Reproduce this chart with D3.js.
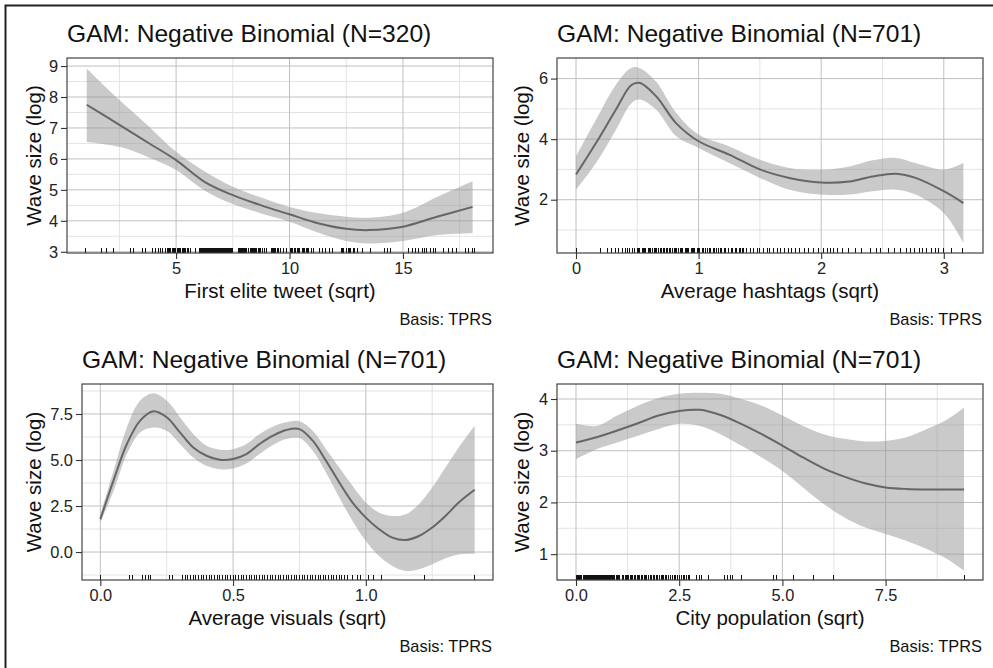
<!DOCTYPE html>
<html>
<head>
<meta charset="utf-8">
<script src="https://cdn.jsdelivr.net/npm/d3@7"></script>
<style>
  body { margin: 0; background: #fff; }
  svg { display: block; font-family: "Liberation Sans", Arial, sans-serif; }
</style>
</head>
<body>
<svg id="chart" width="993" height="668"></svg>
<script>
// Panel 1: first elite tweet
const p1X     = [1.06, 2.5, 3.75, 5, 6.25, 7.5, 8.75, 10, 11.25, 12.5, 13.5, 15, 16.5, 18.07];
const p1Fit   = [7.75, 7.1, 6.53, 5.96, 5.26, 4.83, 4.5, 4.21, 3.92, 3.74, 3.70, 3.81, 4.13, 4.45];
const p1Upper = [8.92, 7.9, 7.08, 6.23, 5.6, 5.1, 4.75, 4.45, 4.25, 4.13, 4.1, 4.26, 4.77, 5.28];
const p1Lower = [6.55, 6.39, 6.06, 5.64, 4.98, 4.54, 4.24, 3.97, 3.62, 3.35, 3.27, 3.35, 3.54, 3.6];
const p1Rug = [1.0, 1.72, 1.94, 2.24, 2.98, 3.13, 3.5, 3.65, 3.97, 4.09, 4.21, 4.32, 4.42, 4.54, 4.6,
  4.66, 4.72, 4.76, 4.82, 4.87, 4.93, 4.99, 5.05, 5.1, 5.16, 5.21, 5.26, 5.31, 5.37, 5.43, 5.49, 5.55,
  5.65, 5.85, 6.03, 6.08, 6.12, 6.16, 6.2, 6.24, 6.27, 6.31, 6.35, 6.39, 6.42, 6.46, 6.5, 6.54, 6.57,
  6.61, 6.65, 6.69, 6.72, 6.76, 6.8, 6.84, 6.87, 6.91, 6.95, 6.99, 7.02, 7.06, 7.1, 7.14, 7.17, 7.21,
  7.25, 7.29, 7.32, 7.36, 7.4, 7.44, 7.48, 7.75, 7.79, 7.82, 7.86, 7.9, 7.94, 7.97, 8.01, 8.05, 8.09,
  8.12, 8.2, 8.3, 8.34, 8.38, 8.42, 8.45, 8.5, 8.55, 8.63, 8.68, 8.72, 8.8, 8.9, 9.0, 9.22, 9.26, 9.3,
  9.35, 9.4, 9.45, 9.5, 9.6, 9.72, 9.85, 10.05, 10.1, 10.15, 10.2, 10.25, 10.35, 10.4, 10.45, 10.55,
  10.6, 10.65, 10.75, 10.8, 10.85, 10.95, 11.05, 11.3, 11.45, 11.6, 11.75, 11.9, 12.3, 12.35, 12.4,
  12.5, 12.6, 12.65, 12.7, 12.8, 12.88, 13.0, 13.2, 13.55, 14.2, 14.3, 14.45, 15.25, 15.4, 15.55,
  15.68, 15.85, 15.95, 16.05, 16.2, 16.35, 16.45, 16.8, 17.0, 17.2, 17.35, 17.75, 17.9, 18.05, 18.15];

// Panel 2: average hashtags
const p2X     = [0, 0.163, 0.326, 0.45, 0.517, 0.653, 0.816, 1.0, 1.25, 1.5, 1.74, 2.0, 2.23, 2.42, 2.61, 2.77, 3.0, 3.16];
const p2Fit   = [2.83, 3.87, 4.98, 5.78, 5.86, 5.42, 4.53, 3.93, 3.49, 3.0, 2.72, 2.57, 2.6, 2.77, 2.86, 2.72, 2.28, 1.89];
const p2Upper = [3.43, 4.64, 5.8, 6.35, 6.35, 5.9, 4.87, 4.15, 3.76, 3.32, 3.05, 2.99, 3.1, 3.3, 3.38, 3.21, 2.99, 3.21];
const p2Lower = [2.33, 3.21, 4.31, 5.18, 5.31, 4.98, 4.1, 3.71, 3.21, 2.72, 2.33, 2.17, 2.17, 2.28, 2.33, 2.17, 1.56, 0.57];
const p2Rug = [0, 0.2, 0.26, 0.29, 0.32, 0.35, 0.38, 0.4, 0.42, 0.44, 0.46, 0.48, 0.5, 0.51, 0.52, 0.54,
  0.55, 0.56, 0.57, 0.59, 0.6, 0.61, 0.62, 0.64, 0.65, 0.66, 0.67, 0.69, 0.7, 0.71, 0.72, 0.74, 0.75,
  0.76, 0.77, 0.79, 0.8, 0.81, 0.82, 0.84, 0.85, 0.86, 0.87, 0.89, 0.9, 0.91, 0.92, 0.94, 0.95, 0.96,
  0.97, 0.99, 1.0, 1.01, 1.03, 1.04, 1.06, 1.07, 1.09, 1.1, 1.12, 1.13, 1.15, 1.16, 1.18, 1.19, 1.21,
  1.22, 1.24, 1.27, 1.28, 1.3, 1.31, 1.33, 1.34, 1.36, 1.37, 1.39, 1.42, 1.45, 1.48, 1.5, 1.53, 1.56,
  1.58, 1.61, 1.64, 1.67, 1.7, 1.73, 1.76, 1.79, 1.82, 1.86, 1.9, 1.94, 1.98, 2.02, 2.05, 2.08, 2.1,
  2.13, 2.17, 2.22, 2.28, 2.33, 2.4, 2.45, 2.48, 2.55, 2.6, 2.65, 2.7, 2.73, 2.76, 2.8, 2.83, 2.86,
  2.9, 2.93, 2.96, 3.0, 3.06, 3.15];

// Panel 3: average visuals
const p3X     = [0, 0.05, 0.1, 0.15, 0.2, 0.25, 0.3, 0.35, 0.4, 0.45, 0.5, 0.55, 0.6, 0.65, 0.7, 0.75,
  0.8, 0.85, 0.9, 0.95, 1.0, 1.05, 1.1, 1.15, 1.2, 1.25, 1.3, 1.35, 1.41];
const p3Fit   = [1.78, 3.9, 5.87, 7.14, 7.65, 7.32, 6.5, 5.68, 5.23, 5.01, 5.05, 5.32, 5.87, 6.32, 6.63,
  6.68, 6.05, 4.96, 3.78, 2.69, 1.87, 1.24, 0.78, 0.65, 0.87, 1.33, 1.96, 2.69, 3.38];
const p3Upper = [2.05, 4.41, 6.77, 8.23, 8.63, 8.23, 7.32, 6.41, 5.77, 5.56, 5.59, 5.87, 6.41, 6.81, 7.05,
  7.1, 6.59, 5.59, 4.59, 3.6, 2.69, 2.14, 1.96, 2.05, 2.6, 3.5, 4.59, 5.68, 6.86];
const p3Lower = [1.6, 3.32, 5.32, 6.5, 6.77, 6.59, 5.87, 5.14, 4.69, 4.5, 4.54, 4.81, 5.32, 5.81, 6.14,
  6.19, 5.5, 4.32, 2.96, 1.69, 0.6, -0.22, -0.76, -1.03, -0.94, -0.67, -0.34, -0.13, -0.09];
const p3Rug = [0, 0.11, 0.12, 0.16, 0.17, 0.18, 0.19, 0.26, 0.27, 0.31, 0.32, 0.33, 0.34, 0.35, 0.36,
  0.37, 0.38, 0.39, 0.4, 0.41, 0.42, 0.43, 0.44, 0.45, 0.46, 0.47, 0.48, 0.49, 0.5, 0.51, 0.52, 0.53,
  0.54, 0.55, 0.56, 0.57, 0.58, 0.59, 0.6, 0.61, 0.62, 0.63, 0.64, 0.65, 0.66, 0.67, 0.68, 0.69, 0.7,
  0.71, 0.72, 0.73, 0.74, 0.75, 0.76, 0.77, 0.78, 0.79, 0.8, 0.81, 0.82, 0.83, 0.84, 0.85, 0.86, 0.87,
  0.88, 0.89, 0.9, 0.91, 0.92, 0.93, 0.95, 0.97, 0.98, 1.01, 1.03, 1.06, 1.22, 1.41];

// Panel 4: city population
const p4X     = [0, 0.5, 1, 1.5, 2, 2.5, 3, 3.5, 4, 4.5, 5, 5.5, 6, 6.5, 7, 7.5, 8, 8.5, 9, 9.4];
const p4Fit   = [3.16, 3.26, 3.39, 3.53, 3.68, 3.77, 3.79, 3.69, 3.52, 3.32, 3.1, 2.87, 2.66, 2.5, 2.37, 2.29, 2.26, 2.25, 2.25, 2.25];
const p4Upper = [3.52, 3.48, 3.68, 3.87, 4.02, 4.1, 4.12, 4.1, 4.0, 3.87, 3.68, 3.48, 3.32, 3.23, 3.18, 3.19, 3.26, 3.42, 3.61, 3.83];
const p4Lower = [2.84, 3.03, 3.16, 3.29, 3.42, 3.52, 3.48, 3.32, 3.1, 2.87, 2.61, 2.29, 1.97, 1.71, 1.52, 1.39, 1.26, 1.1, 0.9, 0.68];
const p4Rug = [0.02, 0.045, 0.07, 0.095, 0.12, 0.145, 0.17, 0.195, 0.22, 0.245, 0.27, 0.295, 0.32, 0.345,
  0.37, 0.395, 0.42, 0.445, 0.47, 0.495, 0.52, 0.545, 0.57, 0.595, 0.62, 0.645, 0.67, 0.695, 0.72, 0.745,
  0.77, 0.795, 0.82, 0.845, 0.87, 0.895, 0.92, 0.945, 0.97, 0.995, 1.02, 1.045, 1.13, 1.16, 1.19, 1.22,
  1.25, 1.28, 1.31, 1.34, 1.38, 1.41, 1.44, 1.48, 1.51, 1.55, 1.58, 1.62, 1.65, 1.69, 1.72, 1.76, 1.8,
  1.84, 1.87, 1.9, 1.95, 1.98, 2.02, 2.06, 2.1, 2.13, 2.17, 2.2, 2.25, 2.3, 2.35, 2.38, 2.42, 2.47, 2.5,
  2.55, 2.6, 2.63, 2.67, 2.72, 2.75, 2.92, 2.98, 3.05, 3.2, 3.6, 3.68, 3.75, 3.8, 4.0, 4.78, 4.86, 5.26,
  5.75, 6.23, 9.41];

// titles and tick labels
const titles = ['GAM: Negative Binomial (N=320)', 'GAM: Negative Binomial (N=701)',
                'GAM: Negative Binomial (N=701)', 'GAM: Negative Binomial (N=701)'];
const xTitles = ['First elite tweet (sqrt)', 'Average hashtags (sqrt)', 'Average visuals (sqrt)', 'City population (sqrt)'];
const yTitle = 'Wave size (log)';
const caption = 'Basis: TPRS';

const p1XTicks = [5, 10, 15],          p1YTicks = [3, 4, 5, 6, 7, 8, 9];
const p2XTicks = [0, 1, 2, 3],         p2YTicks = [2, 4, 6];
const p3XTicks = [0, 0.5, 1],          p3YTicks = [0, 2.5, 5, 7.5];
const p4XTicks = [0, 2.5, 5, 7.5],     p4YTicks = [1, 2, 3, 4];

const panels = [
  { x: p1X, fit: p1Fit, hi: p1Upper, lo: p1Lower, rug: p1Rug,
    xd: [0.19, 18.97], yd: [2.96, 9.26], xt: p1XTicks, yt: p1YTicks, xf: d3.format('d'), yf: d3.format('d'),
    box: { left: 67, right: 493, top: 58, bottom: 253 } },
  { x: p2X, fit: p2Fit, hi: p2Upper, lo: p2Lower, rug: p2Rug,
    xd: [-0.155, 3.32], yd: [0.24, 6.68], xt: p2XTicks, yt: p2YTicks, xf: d3.format('d'), yf: d3.format('d'),
    box: { left: 557, right: 983, top: 58, bottom: 253 } },
  { x: p3X, fit: p3Fit, hi: p3Upper, lo: p3Lower, rug: p3Rug,
    xd: [-0.069, 1.479], yd: [-1.52, 9.13], xt: p3XTicks, yt: p3YTicks, xf: d3.format('.1f'), yf: d3.format('.1f'),
    box: { left: 82, right: 493, top: 384, bottom: 580 } },
  { x: p4X, fit: p4Fit, hi: p4Upper, lo: p4Lower, rug: p4Rug,
    xd: [-0.46, 9.86], yd: [0.5, 4.29], xt: p4XTicks, yt: p4YTicks, xf: d3.format('.1f'), yf: d3.format('d'),
    box: { left: 557, right: 983, top: 384, bottom: 580 } }
];

const svg = d3.select('#chart');

// outer frame (only left and top edges are visible)
svg.append('rect')
  .attr('x', 5.5).attr('y', 5.5)
  .attr('width', 1100).attr('height', 800)
  .attr('fill', 'none')
  .attr('stroke', '#222')
  .attr('stroke-width', 2);

// minor breaks sit halfway between major breaks
function minorTicks(t, domain) {
  const step = t[1] - t[0];
  const out = [];
  for (let v = t[0] - step / 2; v <= domain[1]; v += step) {
    if (v >= domain[0]) out.push(v);
  }
  return out;
}

panels.forEach((p, i) => {
  const b = p.box;
  const x = d3.scaleLinear().domain(p.xd).range([b.left, b.right]);
  const y = d3.scaleLinear().domain(p.yd).range([b.bottom, b.top]);
  const g = svg.append('g');

  // grid
  const grid = g.append('g');
  minorTicks(p.xt, p.xd).forEach(v => {
    grid.append('line').attr('x1', x(v)).attr('x2', x(v)).attr('y1', b.top).attr('y2', b.bottom)
      .attr('stroke', '#e3e3e3').attr('stroke-width', 1);
  });
  minorTicks(p.yt, p.yd).forEach(v => {
    grid.append('line').attr('x1', b.left).attr('x2', b.right).attr('y1', y(v)).attr('y2', y(v))
      .attr('stroke', '#e3e3e3').attr('stroke-width', 1);
  });
  p.xt.forEach(v => {
    grid.append('line').attr('x1', x(v)).attr('x2', x(v)).attr('y1', b.top).attr('y2', b.bottom)
      .attr('stroke', '#c0c0c0').attr('stroke-width', 1);
  });
  p.yt.forEach(v => {
    grid.append('line').attr('x1', b.left).attr('x2', b.right).attr('y1', y(v)).attr('y2', y(v))
      .attr('stroke', '#c0c0c0').attr('stroke-width', 1);
  });

  const idx = d3.range(p.x.length);

  // confidence band
  const area = d3.area()
    .x(d => x(p.x[d]))
    .y0(d => y(p.lo[d]))
    .y1(d => y(p.hi[d]))
    .curve(d3.curveCatmullRom.alpha(0.5));
  g.append('path')
    .datum(idx)
    .attr('d', area)
    .attr('fill', '#959595')
    .attr('fill-opacity', 0.5);

  // fitted smooth
  const line = d3.line()
    .x(d => x(p.x[d]))
    .y(d => y(p.fit[d]))
    .curve(d3.curveCatmullRom.alpha(0.5));
  g.append('path')
    .datum(idx)
    .attr('d', line)
    .attr('fill', 'none')
    .attr('stroke', '#666')
    .attr('stroke-width', 2);

  // rug
  g.append('g').selectAll('line')
    .data(p.rug)
    .join('line')
    .attr('x1', d => x(d)).attr('x2', d => x(d))
    .attr('y1', b.bottom).attr('y2', b.bottom - 5)
    .attr('stroke', '#111')
    .attr('stroke-width', 1)
    .attr('shape-rendering', 'crispEdges');

  // panel border
  g.append('rect')
    .attr('x', b.left).attr('y', b.top)
    .attr('width', b.right - b.left).attr('height', b.bottom - b.top)
    .attr('fill', 'none')
    .attr('stroke', '#444')
    .attr('stroke-width', 1.2);

  // axes
  const xAxis = g.append('g')
    .attr('transform', `translate(0,${b.bottom})`)
    .call(d3.axisBottom(x).tickValues(p.xt).tickFormat(p.xf).tickSize(6).tickPadding(3));
  const yAxis = g.append('g')
    .attr('transform', `translate(${b.left},0)`)
    .call(d3.axisLeft(y).tickValues(p.yt).tickFormat(p.yf).tickSize(6).tickPadding(3));
  [xAxis, yAxis].forEach(a => {
    a.select('.domain').remove();
    a.selectAll('line').attr('stroke', '#333').attr('stroke-width', 1.1);
    a.selectAll('text')
      .attr('fill', '#222')
      .style('font-size', '16.4px')
      .style('font-family', '"Liberation Sans", Arial, sans-serif');
  });

  // title
  g.append('text')
    .attr('x', b.left)
    .attr('y', b.top - 16.5)
    .attr('font-size', 24.6)
    .attr('fill', '#111')
    .text(titles[i]);

  // axis titles
  g.append('text')
    .attr('x', (b.left + b.right) / 2)
    .attr('y', b.bottom + 45)
    .attr('text-anchor', 'middle')
    .attr('font-size', 20.5)
    .attr('fill', '#111')
    .text(xTitles[i]);

  const yx = i % 2 === 0 ? 41 : 529;
  g.append('text')
    .attr('transform', `translate(${yx},${(b.top + b.bottom) / 2}) rotate(-90)`)
    .attr('text-anchor', 'middle')
    .attr('font-size', 20.5)
    .attr('fill', '#111')
    .text(yTitle);

  // caption
  g.append('text')
    .attr('x', b.right - 1)
    .attr('y', b.bottom + 71.5)
    .attr('text-anchor', 'end')
    .attr('font-size', 16.4)
    .attr('fill', '#111')
    .text(caption);
});
</script>
</body>
</html>
